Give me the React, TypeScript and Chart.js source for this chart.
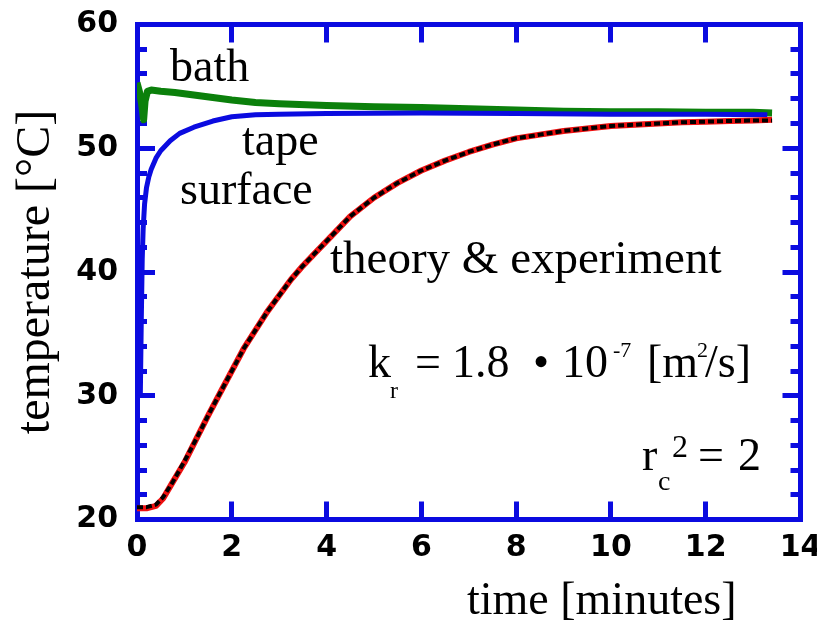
import React, { useEffect, useRef } from "react";
import { Chart, registerables } from "chart.js";

Chart.register(...registerables);

// ---- axis ranges / ticks ----
const X_MIN = 0;
const X_MAX = 14;
const X_STEP = 2;
const Y_MIN = 20;
const Y_MAX = 60;
const Y_MINOR_STEP = 2;
const Y_LABEL_STEP = 10;

// ---- bath (green) ----
const BATH_TIME = [0, 0.05, 0.1, 0.14, 0.17, 0.22, 0.3, 0.5, 0.8, 1.2, 1.6, 2.0, 2.5, 3.0, 4.0, 5.0, 6.0, 7.0, 8.0, 9.0, 10.0, 11.0, 12.0, 13.0, 13.4];
const BATH_TEMP = [55.3, 54.6, 53.5, 52.3, 53.8, 54.6, 54.7, 54.6, 54.5, 54.3, 54.1, 53.9, 53.7, 53.6, 53.45, 53.35, 53.3, 53.2, 53.1, 53.0, 52.95, 52.95, 52.9, 52.9, 52.85];

// ---- tape surface (blue) ----
const TAPE_TIME = [0.07, 0.09, 0.11, 0.13, 0.16, 0.2, 0.25, 0.3, 0.4, 0.5, 0.7, 0.9, 1.2, 1.6, 2.0, 2.5, 3.0, 4.0, 6.0, 8.0, 10.0, 12.0, 13.3];
const TAPE_TEMP = [30, 36, 41, 43.5, 45.5, 46.8, 47.7, 48.3, 49.2, 49.8, 50.6, 51.2, 51.7, 52.2, 52.55, 52.7, 52.75, 52.8, 52.85, 52.8, 52.75, 52.75, 52.7];

// ---- experiment (red) ----
const EXP_TIME = [0, 0.2, 0.4, 0.55, 0.75, 1.0, 1.25, 1.5, 1.75, 2.0, 2.25, 2.5, 2.75, 3.0, 3.25, 3.5, 3.75, 4.0, 4.5, 5.0, 5.5, 6.0, 6.5, 7.0, 7.5, 8.0, 8.5, 9.0, 9.5, 10.0, 10.5, 11.0, 11.5, 12.0, 12.5, 13.0, 13.4];
const EXP_TEMP = [20.9, 20.9, 21.1, 21.7, 23.0, 24.6, 26.5, 28.4, 30.2, 32.0, 33.8, 35.3, 36.8, 38.1, 39.4, 40.5, 41.5, 42.5, 44.5, 46.0, 47.2, 48.2, 49.0, 49.7, 50.3, 50.8, 51.1, 51.4, 51.6, 51.8, 51.9, 52.0, 52.1, 52.15, 52.2, 52.25, 52.3];

// ---- theory (black dashed) ----
const THEORY_TIME = [0, 0.2, 0.4, 0.55, 0.75, 1.0, 1.25, 1.5, 1.75, 2.0, 2.25, 2.5, 2.75, 3.0, 3.25, 3.5, 3.75, 4.0, 4.5, 5.0, 5.5, 6.0, 6.5, 7.0, 7.5, 8.0, 8.5, 9.0, 9.5, 10.0, 10.5, 11.0, 11.5, 12.0, 12.5, 13.0, 13.4];
const THEORY_TEMP = [21.0, 21.0, 21.2, 21.8, 23.0, 24.7, 26.5, 28.4, 30.2, 32.0, 33.8, 35.3, 36.8, 38.1, 39.4, 40.5, 41.5, 42.5, 44.5, 46.0, 47.2, 48.2, 49.0, 49.7, 50.3, 50.8, 51.1, 51.4, 51.6, 51.8, 51.9, 52.0, 52.1, 52.15, 52.2, 52.25, 52.25];

const BLUE = "#0b0be0";
const GREEN = "#0b800b";
const RED = "#ee1010";
const BLACK = "#000000";

const zip = (xs: number[], ys: number[]) => xs.map((x, i) => ({ x, y: ys[i] }));

const SERIF = '"Liberation Serif", "Times New Roman", serif';
const TICK_FONT = { family: '"DejaVu Sans", Verdana, sans-serif', size: 30, weight: "bold" as const };

const annotationPlugin = {
  id: "annotations",
  afterDatasetsDraw(chart: any) {
    const ctx = chart.ctx as CanvasRenderingContext2D;
    ctx.save();
    ctx.fillStyle = BLACK;
    ctx.textAlign = "left";
    ctx.textBaseline = "alphabetic";
    const put = (t: string, x: number, y: number, size: number) => {
      ctx.font = `${size}px ${SERIF}`;
      ctx.fillText(t, x, y);
    };
    put("bath", 170, 81, 46);
    put("tape", 242, 155, 46);
    put("surface", 180, 204, 46);
    put("theory & experiment", 330, 273, 47);
    // k_r = 1.8 • 10^-7 [m^2/s]
    put("k", 368, 377, 46);
    put("r", 390, 398, 24);
    put("=", 415, 377, 46);
    put("1.8", 452, 377, 46);
    put("\u2022", 533, 377, 46);
    put("10", 562, 377, 46);
    put("-7", 613, 357, 22);
    put("[m", 647, 377, 46);
    put("2", 697, 357, 22);
    put("/s]", 705, 377, 46);
    // r_c^2 = 2
    put("r", 642, 470, 46);
    put("c", 658, 490, 28);
    put("2", 672, 457, 32);
    put("=", 698, 470, 46);
    put("2", 738, 470, 46);
    // x axis title
    put("time [minutes]", 467, 614, 46);
    ctx.restore();
  },
};

const fixBox = (w: number | null, h: number | null) => (s: any) => {
  if (w !== null) s.width = w;
  if (h !== null) s.height = h;
  s.paddingLeft = 0;
  s.paddingRight = 0;
  s.paddingTop = 0;
  s.paddingBottom = 0;
};

export default function App() {
  const canvasRef = useRef<HTMLCanvasElement | null>(null);

  useEffect(() => {
    if (!canvasRef.current) return;
    const tickGrid = (dash: (c: any) => number[]) => ({
      drawOnChartArea: false,
      drawTicks: true,
      tickLength: -18,
      tickWidth: 5,
      tickColor: BLUE,
      lineWidth: 5,
      color: BLUE,
      tickBorderDash: dash,
    });
    const border = { display: true, color: BLUE, width: 5 };
    const isMinor = (c: any) => c && c.tick && Math.round(c.tick.value) % Y_LABEL_STEP !== 0;
    const lineStyle = { pointRadius: 0, tension: 0, borderJoinStyle: "round" as const };

    const chart = new Chart(canvasRef.current, {
      type: "line",
      data: {
        datasets: [
          { label: "theory", data: zip(THEORY_TIME, THEORY_TEMP), borderColor: BLACK, borderWidth: 4, borderDash: [6, 3], ...lineStyle },
          { label: "experiment", data: zip(EXP_TIME, EXP_TEMP), borderColor: RED, borderWidth: 6, ...lineStyle },
          { label: "tape surface", data: zip(TAPE_TIME, TAPE_TEMP), borderColor: BLUE, borderWidth: 5, ...lineStyle },
          { label: "bath", data: zip(BATH_TIME, BATH_TEMP), borderColor: GREEN, borderWidth: 7, ...lineStyle },
        ],
      },
      options: {
        responsive: false,
        animation: false,
        devicePixelRatio: 1,
        layout: { padding: { top: 24.5, right: 16.5, bottom: 0, left: 0 } },
        plugins: { legend: { display: false }, tooltip: { enabled: false }, title: { display: false } },
        scales: {
          x: {
            type: "linear",
            position: "bottom",
            min: X_MIN,
            max: X_MAX,
            ticks: { stepSize: X_STEP, font: TICK_FONT, color: BLACK, padding: 29, maxRotation: 0, autoSkip: false },
            grid: tickGrid(() => []),
            border,
            afterFit: fixBox(null, 105.5),
          },
          x2: {
            type: "linear",
            position: "top",
            min: X_MIN,
            max: X_MAX,
            ticks: { stepSize: X_STEP, callback: () => "", autoSkip: false, maxRotation: 0 },
            grid: tickGrid(() => []),
            border,
            afterFit: fixBox(null, 0),
          },
          y: {
            type: "linear",
            position: "left",
            min: Y_MIN,
            max: Y_MAX,
            ticks: {
              stepSize: Y_MINOR_STEP,
              autoSkip: false,
              font: TICK_FONT,
              color: BLACK,
              padding: 37,
              callback: (v: any) => (Math.round(v) % Y_LABEL_STEP === 0 ? String(v) : ""),
            },
            grid: tickGrid((c: any) => (isMinor(c) ? [0, 8, 40] : [])),
            border,
            title: {
              display: true,
              text: "temperature [\u00B0C]",
              color: BLACK,
              font: { family: SERIF, size: 48 },
              padding: { top: 8, bottom: 0 },
            },
            afterFit: fixBox(137, null),
          },
          y2: {
            type: "linear",
            position: "right",
            min: Y_MIN,
            max: Y_MAX,
            ticks: { stepSize: Y_MINOR_STEP, autoSkip: false, callback: () => "" },
            grid: tickGrid((c: any) => (isMinor(c) ? [12.5, 40] : [])),
            border,
            afterFit: fixBox(0, null),
          },
        },
      } as any,
      plugins: [annotationPlugin],
    });
    return () => chart.destroy();
  }, []);

  return (
    <div style={{ position: "absolute", left: 0, top: 0, width: 817, height: 625, background: "#fff" }}>
      <canvas ref={canvasRef} width={817} height={625} style={{ display: "block" }} />
    </div>
  );
}
